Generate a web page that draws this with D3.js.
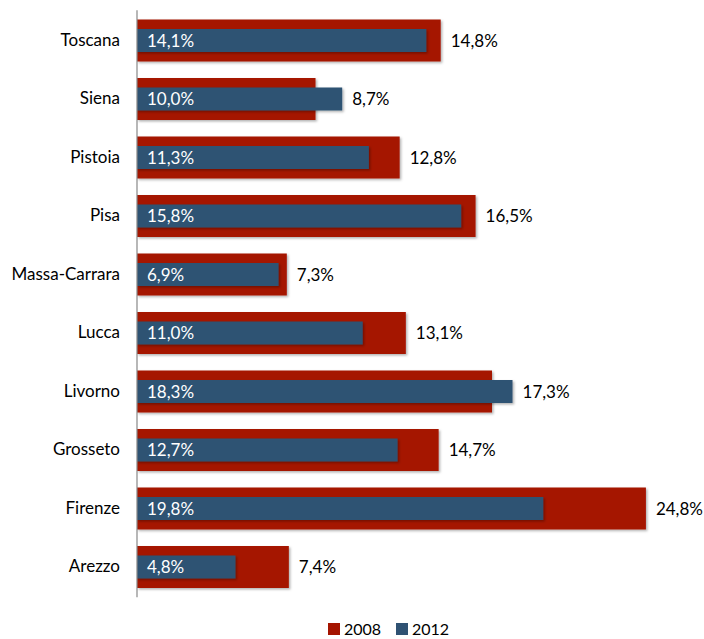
<!DOCTYPE html>
<html>
<head>
<meta charset="utf-8">
<script src="https://cdn.jsdelivr.net/npm/d3@7"></script>
<style>
  html, body { margin: 0; padding: 0; background: #fff; }
  svg { display: block; font-family: Lato, "Open Sans", sans-serif; }
</style>
</head>
<body>
<svg id="chart" width="704" height="639"></svg>
<script>
// Provinces, top to bottom
const categories = ["Toscana", "Siena", "Pistoia", "Pisa", "Massa-Carrara", "Lucca", "Livorno", "Grosseto", "Firenze", "Arezzo"];
// Share (%) per year
const values2008 = [14.8, 8.7, 12.8, 16.5, 7.3, 13.1, 17.3, 14.7, 24.8, 7.4];
const values2012 = [14.1, 10.0, 11.3, 15.8, 6.9, 11.0, 18.3, 12.7, 19.8, 4.8];
const seriesNames = ["2008", "2012"];
const seriesColors = ["#A51400", "#2F5273"];

const fontSize = 17;
const svg = d3.select("#chart");
const fmt = v => d3.format(".1f")(v).replace(".", ",") + "%";

const x = d3.scaleLinear().domain([0, 25]).range([137, 650]);
const y = d3.scaleBand().domain(categories).range([11.25, 596.25]).paddingInner(0).paddingOuter(0);
const step = y.step();
const hRed = 42, hBlue = 23;

// soft drop shadow under bars
const defs = svg.append("defs");
const f = defs.append("filter").attr("id", "shadow").attr("x", "-5%").attr("y", "-20%").attr("width", "115%").attr("height", "160%");
f.append("feDropShadow").attr("dx", 1.5).attr("dy", 1.5).attr("stdDeviation", 1.2).attr("flood-color", "#000").attr("flood-opacity", 0.3);

const rows = svg.append("g").selectAll("g").data(categories).join("g")
  .attr("transform", d => `translate(0,${y(d) + step / 2})`);

rows.append("rect")
  .attr("x", x(0))
  .attr("y", -hRed / 2)
  .attr("width", (d, i) => x(values2008[i]) - x(0))
  .attr("height", hRed)
  .attr("fill", seriesColors[0])
  .attr("filter", "url(#shadow)");

rows.append("rect")
  .attr("x", x(0))
  .attr("y", -hBlue / 2)
  .attr("width", (d, i) => x(values2012[i]) - x(0))
  .attr("height", hBlue)
  .attr("fill", seriesColors[1])
  .attr("filter", "url(#shadow)");

// 2012 values inside the blue bars
rows.append("text")
  .attr("x", x(0) + 10)
  .attr("dy", "0.36em")
  .attr("fill", "#fff")
  .attr("font-size", fontSize)
  .text((d, i) => fmt(values2012[i]));

// 2008 values past the longer bar
rows.append("text")
  .attr("x", (d, i) => x(Math.max(values2008[i], values2012[i])) + 10)
  .attr("dy", "0.36em")
  .attr("fill", "#000")
  .attr("font-size", fontSize)
  .text((d, i) => fmt(values2008[i]));

// Category axis
const yAxis = d3.axisLeft(y).tickSize(0).tickPadding(17);
const ga = svg.append("g").attr("transform", `translate(${x(0)},0)`).call(yAxis);
ga.select(".domain").attr("stroke", "#888").attr("stroke-width", 1.2).attr("d", `M0,${y.range()[0] - 1}V${y.range()[1] + 1}`);
ga.selectAll("text").attr("font-size", fontSize).attr("fill", "#000").attr("font-family", "Lato, 'Open Sans', sans-serif");

// Legend
const legend = svg.append("g").attr("transform", "translate(328,629)");
const items = legend.selectAll("g").data(seriesNames).join("g")
  .attr("transform", (d, i) => `translate(${i * 68},0)`);
items.append("rect").attr("x", 0).attr("y", -6).attr("width", 12).attr("height", 12)
  .attr("fill", (d, i) => seriesColors[i]);
items.append("text").attr("x", 16).attr("dy", "0.36em").attr("font-size", 16).attr("fill", "#000").text(d => d);
</script>
</body>
</html>
